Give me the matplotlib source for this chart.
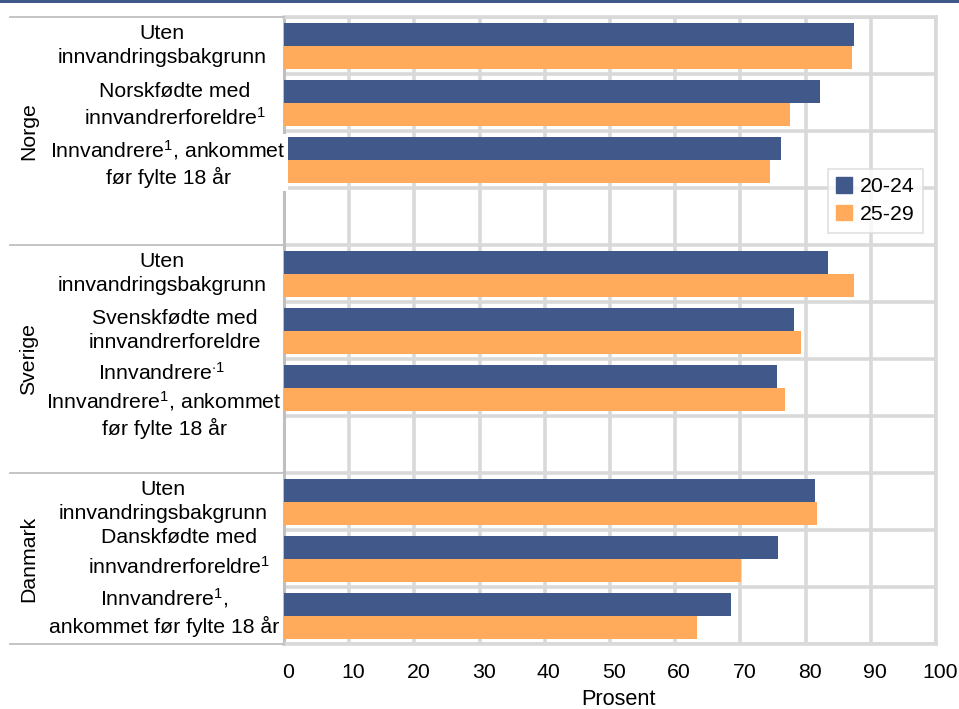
import numpy as np
import matplotlib
matplotlib.use('Agg')
import matplotlib.pyplot as plt
from matplotlib.lines import Line2D
from matplotlib.patches import Rectangle, Patch
from matplotlib.transforms import blended_transform_factory, ScaledTranslation

plt.rcParams['font.family'] = ['Liberation Sans', 'DejaVu Sans']
plt.rcParams['mathtext.fontset'] = 'custom'
plt.rcParams['mathtext.rm'] = 'Liberation Sans'
plt.rcParams['mathtext.it'] = 'Liberation Sans'
plt.rcParams['mathtext.bf'] = 'Liberation Sans:bold'

# data
countries = ['Norge', 'Sverige', 'Danmark']
groups = ['Uten innvandringsbakgrunn', 'Født i landet med innvandrerforeldre',
          'Innvandrere, ankommet før fylte 18 år']
series = ['20-24', '25-29']
v_2024 = [87.4, 82.2, 76.2,   83.5, 78.2, 75.6,   81.4, 75.7, 68.6]
v_2529 = [87.1, 77.6, 74.5,   87.5, 79.3, 76.8,   81.8, 70.1, 63.3]
xticks = list(range(0, 101, 10))

# category labels as they appear (text, x-centre px, y-shift in slots, line spacing)
cat_labels = [
    ('Uten\ninnvandringsbakgrunn', 162, 0.0, 1.3),
    ('Norskfødte med\ninnvandrerforeldre$^1$', 175, 0.05, 1.3),
    ('Innvandrere$^1$, ankommet\nfør fylte 18 år', 168, 0.06, 1.3),
    ('Uten\ninnvandringsbakgrunn', 162, 0.0, 1.3),
    ('Svenskfødte med\ninnvandrerforeldre', 175, 0.0, 1.3),
    ('Innvandrere$^{\\cdot 1}$', 162, -0.25, 1.3),
    ('Uten\ninnvandringsbakgrunn', 163, 0.0, 1.3),
    ('Danskfødte med\ninnvandrerforeldre$^1$', 179, -0.1, 1.5),
    ('Innvandrere$^1$,\nankommet før fylte 18 år', 164, -0.07, 1.3),
]

blue = '#41598a'
orange = '#ffab5b'
grid_c = '#d9d9d9'
axis_c = '#bfbfbf'
fs = 15.3

W, H = 959, 709
fig = plt.figure(figsize=(W / 100, H / 100), dpi=100)
ax = fig.add_axes([284 / W, 1 - 644 / H, 652 / W, 627 / H])

pos = np.array([4 * g + i for g in range(3) for i in range(3)], dtype=float)
h = 0.40
ax.barh(pos - h, v_2024, height=h, align='edge', color=blue, zorder=3, label=series[0])
ax.barh(pos, v_2529, height=h + 0.01, align='edge', color=orange, zorder=3, label=series[1])

ax.set_xlim(0, 100)
ax.set_ylim(10.5, -0.5)
ax.set_xticks(xticks)
ax.set_yticks([])
ax.set_yticks(np.arange(-0.5, 11, 1), minor=True)
ax.grid(axis='x', which='major', color=grid_c, lw=2.6, zorder=0)
ax.grid(axis='y', which='minor', color=grid_c, lw=2.6, zorder=0)
ax.set_axisbelow(True)
ax.tick_params(axis='both', which='both', length=0)
ax.tick_params(axis='x', labelsize=fs, pad=14)
for lab in ax.get_xticklabels():
    lab.set_transform(lab.get_transform() + ScaledTranslation(4 / 100, 0, fig.dpi_scale_trans))
ax.set_xlabel('Prosent', fontsize=fs + 0.4, labelpad=5)
ax.xaxis.label.set_position((0.513, 0))

for s in ['top', 'right', 'bottom']:
    ax.spines[s].set_color(grid_c)
    ax.spines[s].set_linewidth(2.6)
ax.spines['left'].set_color(axis_c)
ax.spines['left'].set_linewidth(2.2)

# category labels
tr = blended_transform_factory(fig.transFigure, ax.transData)
for (txt, xc, dy, ls), p in zip(cat_labels, pos):
    t = ax.text(xc / W, p + dy, txt, transform=tr, ha='center', va='center',
                fontsize=fs, linespacing=ls, clip_on=False, zorder=10)
    if p == 2:
        t.set_bbox(dict(fc='white', ec='none', pad=2))
# the extra overlapping label in the Sverige block
ax.text(164 / W, 6 + 0.47, 'Innvandrere$^1$, ankommet\nfør fylte 18 år', transform=tr,
        ha='center', va='center', fontsize=fs, linespacing=1.3, clip_on=False, zorder=10)

# group separators and country names
for b in [-0.5, 3.5, 7.5, 10.5]:
    fig.add_artist(Line2D([10 / W, 284 / W], [b, b], transform=tr, color=axis_c, lw=1.3))
for name, c in zip(countries, [1.5, 5.5, 9.0]):
    ax.text(29 / W, c, name, transform=tr, rotation=90, ha='center', va='center',
            fontsize=fs, clip_on=False)

# top band
fig.add_artist(Rectangle((0, 1 - 3 / H), 1, 3 / H, transform=fig.transFigure,
                         color='#3f5a88', lw=0))

handles = [Patch(color=blue, label=series[0]), Patch(color=orange, label=series[1])]
leg = ax.legend(handles=handles, loc='upper right', bbox_to_anchor=(0.98, 0.758),
                borderaxespad=0, fontsize=fs, frameon=True, fancybox=False,
                handlelength=0.75, handleheight=0.75, handletextpad=0.35,
                labelspacing=0.4, borderpad=0.4)
leg.get_frame().set_edgecolor(grid_c)
leg.get_frame().set_linewidth(1.2)
leg.set_zorder(5)

fig.savefig('out.png', dpi=100)
